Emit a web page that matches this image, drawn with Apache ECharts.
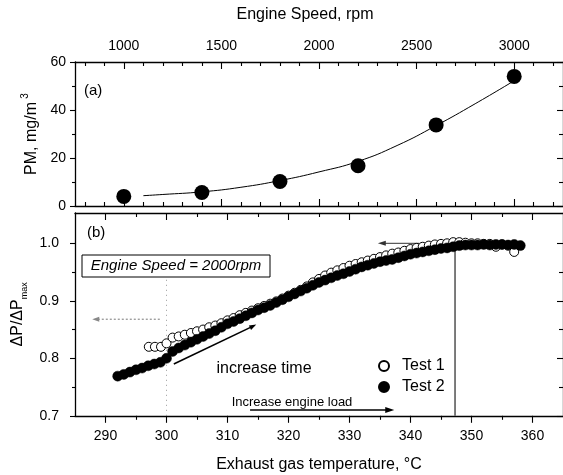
<!DOCTYPE html>
<html><head><meta charset="utf-8">
<script src="https://cdn.jsdelivr.net/npm/echarts@6/dist/echarts.min.js"></script>
<style>html,body{margin:0;padding:0;background:#fff}#c{width:563px;height:475px}</style>
</head><body><div id="c"></div>
<script>
// ---------- data ----------
const rpmTicks = [1000, 1500, 2000, 2500, 3000];
const rpmMinor = [800, 900, 1100, 1200, 1300, 1400, 1600, 1700, 1800, 1900, 2100, 2200, 2300, 2400, 2600, 2700, 2800, 2900, 3100, 3200];
const tempTicks = [290, 300, 310, 320, 330, 340, 350, 360];
const tempMinor = [295, 305, 315, 325, 335, 345, 355];
const pmTicks = [0, 20, 40, 60];
const pmMinor = [10, 30, 50];
const dpTicks = [0.7, 0.8, 0.9, 1.0];
const dpMinor = [0.75, 0.85, 0.95];

const speed = [1000, 1400, 1800, 2200, 2600, 3000];
const pm = [4.0, 5.6, 10.2, 16.8, 33.8, 54.0];
const fitSpeed = [1100, 1200, 1400, 1600, 1800, 2000, 2200, 2400, 2600, 2800, 3000];
const fitPM = [4.3, 4.8, 5.9, 7.8, 10.6, 14.2, 18.6, 25.2, 33.5, 42.6, 52.2];

const t2Temp = [292,293,294,295,296,297,298,299,300,301,302,303,304,305,306,307,308,309,310,311,312,313,314,315,316,317,318,319,320,321,322,323,324,325,326,327,328,329,330,331,332,333,334,335,336,337,338,339,340,341,342,343,344,345,346,347,348,349,350,351,352,353,354,355,356,357,358];
const t2Val = [0.769,0.772,0.776,0.780,0.783,0.787,0.790,0.793,0.800,0.812,0.818,0.823,0.828,0.833,0.838,0.843,0.848,0.854,0.860,0.864,0.869,0.874,0.879,0.884,0.888,0.892,0.897,0.902,0.907,0.912,0.917,0.922,0.927,0.932,0.936,0.940,0.944,0.947,0.951,0.955,0.959,0.962,0.965,0.968,0.970,0.972,0.975,0.978,0.981,0.983,0.985,0.987,0.989,0.991,0.992,0.994,0.996,0.997,0.997,0.997,0.998,0.997,0.998,0.998,0.997,0.998,0.996];

const t1Temp = [297.1,298.1,299.1,300,301,302,303,304,305,306,307,308,309,310,311,312,313,314,315,316,317,318,319,320,321,322,323,324,325,326,327,328,329,330,331,332,333,334,335,336,337,338,339,340,341,342,343,344,345,346,347,348,349,350,351,352,353,354,355,356,357];
const t1Val = [0.820,0.820,0.820,0.826,0.836,0.838,0.841,0.844,0.847,0.850,0.854,0.857,0.861,0.866,0.870,0.875,0.879,0.883,0.887,0.891,0.895,0.899,0.904,0.909,0.914,0.919,0.925,0.932,0.938,0.944,0.949,0.953,0.957,0.961,0.964,0.967,0.970,0.973,0.976,0.979,0.982,0.984,0.987,0.990,0.992,0.994,0.996,0.998,0.999,1.000,1.002,1.002,1.001,1.000,1.000,0.999,0.999,0.994,0.998,0.996,0.985];

// annotation segments (data units of panel b): [start, end]
const vLine = [[347.3, 0.70], [347.3, 1.0]];
const topArrow = [[341.5, 1.0], [335.3, 1.0]];
const dotArrow = [[298.9, 0.868], [288.4, 0.868]];
const dotVert = [[300.0, 0.70], [300.0, 0.94]];
const timeArrow = [[301.2, 0.790], [314.2, 0.856]];
const loadArrow = [[313.7, 0.710], [336.6, 0.710]];

// ---------- chart ----------
const FONT = 'Liberation Sans';
const BLACK = '#000';
const chart = echarts.init(document.getElementById('c'), null, {renderer: 'canvas'});

function ax(grid, pos, min, max, ticks, len, inside, labels, lineShow, margin, fmt, extra) {
  return Object.assign({
    gridIndex: grid, type: 'value', position: pos, min: min, max: max,
    axisLine: {show: lineShow, onZero: false, lineStyle: {color: BLACK, width: 1.3}},
    axisTick: {show: true, inside: inside, length: len, customValues: ticks, lineStyle: {color: BLACK, width: 1.1}},
    axisLabel: {show: labels, customValues: ticks, color: BLACK, fontSize: 14, fontFamily: FONT, margin: margin || 9,
                formatter: fmt || (v => String(v))},
    splitLine: {show: false}
  }, extra || {});
}

// panel (b) uses xAxis 4 and yAxis 4
const BX = 4, BY = 4;
function seg(pts, style) {
  return {
    type: 'line', xAxisIndex: BX, yAxisIndex: BY, silent: true, showSymbol: false, symbol: 'none',
    lineStyle: style, data: pts, z: 2, animation: false
  };
}
function tip(pt, rot, color, size) {
  return {
    type: 'scatter', xAxisIndex: BX, yAxisIndex: BY, silent: true, symbol: 'triangle',
    symbolSize: size, symbolRotate: rot, itemStyle: {color: color, opacity: 1}, data: [pt], z: 2
  };
}

const option = {
  animation: false,
  backgroundColor: '#fff',
  textStyle: {fontFamily: FONT},
  grid: [
    {left: 75, top: 62, width: 490, height: 144},
    {left: 75, top: 213, width: 490, height: 202.8}
  ],
  xAxis: [
    ax(0, 'top', 750, 3250, rpmTicks, 7, true, true, true, 9, null, {
      name: 'Engine Speed, rpm', nameLocation: 'middle', nameGap: 39,
      nameTextStyle: {color: BLACK, fontSize: 16, fontFamily: FONT, padding: [0, 28, 0, 0]}
    }),
    ax(0, 'top', 750, 3250, rpmMinor, 4, true, false, false),
    ax(0, 'bottom', 750, 3250, rpmTicks, 7, true, false, true),
    ax(0, 'bottom', 750, 3250, rpmMinor, 4, true, false, false),
    ax(1, 'bottom', 285, 365, tempTicks, 7, false, true, true, 13, null, {
      name: 'Exhaust gas temperature, \u00B0C', nameLocation: 'middle', nameGap: 41,
      nameTextStyle: {color: BLACK, fontSize: 16, fontFamily: FONT}
    }),
    ax(1, 'bottom', 285, 365, tempMinor, 4, false, false, false),
    ax(1, 'top', 285, 365, tempTicks, 7, true, false, true),
    ax(1, 'top', 285, 365, tempMinor, 4, true, false, false)
  ],
  yAxis: [
    ax(0, 'left', 0, 60, pmTicks, 5, false, true, true, 9, null, {
      name: '{m|PM, mg/m} {s|3}', nameLocation: 'middle', nameGap: 32,
      nameTextStyle: {color: BLACK, fontFamily: FONT, rich: {
        m: {fontSize: 16, fontFamily: FONT, color: BLACK, lineHeight: 22, verticalAlign: 'middle'},
        s: {fontSize: 10, fontFamily: FONT, color: BLACK, lineHeight: 10, verticalAlign: 'top'}
      }}
    }),
    ax(0, 'left', 0, 60, pmMinor, 3, false, false, false),
    ax(0, 'right', 0, 60, pmTicks, 6, true, false, true),
    ax(0, 'right', 0, 60, pmMinor, 4, true, false, false),
    ax(1, 'left', 0.7, 1.0527, dpTicks, 5, false, true, true, 16, v => v.toFixed(1), {
      name: '{m|\u0394P/\u0394P}{s|max}', nameLocation: 'middle', nameGap: 37,
      nameTextStyle: {color: BLACK, fontFamily: FONT, rich: {
        m: {fontSize: 16, fontFamily: FONT, color: BLACK, lineHeight: 22, verticalAlign: 'middle'},
        s: {fontSize: 9, fontFamily: FONT, color: BLACK, lineHeight: 9, verticalAlign: 'bottom'}
      }}
    }),
    ax(1, 'left', 0.7, 1.0527, dpMinor, 3, false, false, false),
    ax(1, 'right', 0.7, 1.0527, dpTicks, 6, true, false, true),
    ax(1, 'right', 0.7, 1.0527, dpMinor, 4, true, false, false)
  ],
  legend: {
    orient: 'vertical', left: 373, top: 353, itemWidth: 26, itemHeight: 10, itemGap: 5,
    textStyle: {color: BLACK, fontSize: 16, fontFamily: FONT},
    data: ['Test 1', 'Test 2'], selectedMode: false
  },
  series: [
    {type: 'line', name: 'fit', xAxisIndex: 0, yAxisIndex: 0, smooth: true, showSymbol: false, symbol: 'none', silent: true,
     lineStyle: {color: BLACK, width: 1}, data: fitSpeed.map((s, i) => [s, fitPM[i]]), z: 2},
    {type: 'scatter', name: 'PM', xAxisIndex: 0, yAxisIndex: 0, symbolSize: 15,
     itemStyle: {color: BLACK, opacity: 1}, data: speed.map((s, i) => [s, pm[i]]), z: 3},
    seg(vLine, {color: '#444', width: 1.4, type: 'solid'}),
    seg(dotVert, {color: '#999', width: 1, type: [1, 4]}),
    seg(topArrow, {color: '#333', width: 1, type: 'solid'}),
    tip(topArrow[1], 90, '#333', [5, 8]),
    seg(dotArrow, {color: '#777', width: 1, type: [2, 2]}),
    tip(dotArrow[1], 90, '#888', [5, 7]),
    seg(timeArrow, {color: BLACK, width: 1.6, type: 'solid'}),
    tip(timeArrow[1], -64, BLACK, [5, 7]),
    seg(loadArrow, {color: BLACK, width: 1.4, type: 'solid'}),
    tip(loadArrow[1], -90, BLACK, [6, 9]),
    {type: 'scatter', name: 'Test 1', xAxisIndex: BX, yAxisIndex: BY, symbolSize: 9,
     itemStyle: {color: '#fff', borderColor: BLACK, borderWidth: 1, opacity: 1}, data: t1Temp.map((t, i) => [t, t1Val[i]]), z: 3},
    {type: 'scatter', name: 'Test 2', xAxisIndex: BX, yAxisIndex: BY, symbolSize: 10,
     itemStyle: {color: BLACK, borderColor: BLACK, borderWidth: 0.5, opacity: 1}, data: t2Temp.map((t, i) => [t, t2Val[i]]), z: 4}
  ],
  graphic: [
    {type: 'text', left: 84, top: 83, style: {text: '(a)', fontSize: 15, fontFamily: FONT, fill: BLACK}},
    {type: 'text', left: 87, top: 225, style: {text: '(b)', fontSize: 15, fontFamily: FONT, fill: BLACK}},
    {type: 'rect', shape: {x: 82, y: 255, width: 188, height: 22}, style: {fill: '#fff', stroke: BLACK, lineWidth: 1}, z: 10},
    {type: 'text', x: 176, y: 266, z: 11, style: {text: 'Engine Speed = 2000rpm', fontSize: 15, fontStyle: 'italic', fontFamily: FONT, fill: BLACK, align: 'center', verticalAlign: 'middle', textAlign: 'center', textVerticalAlign: 'middle'}},
    {type: 'text', x: 264, y: 369, style: {text: 'increase time', fontSize: 16, fontFamily: FONT, fill: BLACK, align: 'center', verticalAlign: 'middle', textAlign: 'center', textVerticalAlign: 'middle'}},
    {type: 'text', x: 292, y: 402, style: {text: 'Increase engine load', fontSize: 13, fontFamily: FONT, fill: BLACK, align: 'center', verticalAlign: 'middle', textAlign: 'center', textVerticalAlign: 'middle'}}
  ]
};
chart.setOption(option);
</script>
</body></html>
